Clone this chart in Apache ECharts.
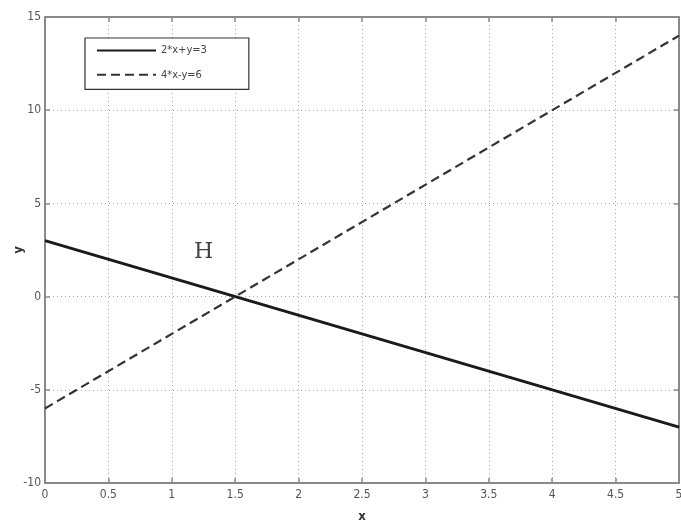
<!DOCTYPE html>
<html>
<head>
<meta charset="utf-8">
<script src="https://cdn.jsdelivr.net/npm/echarts@6/dist/echarts.min.js"></script>
<style>
  html, body { margin: 0; padding: 0; background: #fff; }
  #mainChart { width: 681px; height: 526px; }
</style>
</head>
<body>
<div id="mainChart"></div>
<script>
'use strict';
// line end points
var xValues = [0, 5];
var line1Values = [3, -7];   // 2*x+y=3
var line2Values = [-6, 14];  // 4*x-y=6
var seriesNames = ['2*x+y=3', '4*x-y=6'];
var hPoint = [1.25, 2.4];
var xTicks = [0, 0.5, 1, 1.5, 2, 2.5, 3, 3.5, 4, 4.5, 5];
var yTicks = [-10, -5, 0, 5, 10, 15];

var narrowFont = "'Liberation Sans Narrow', 'DejaVu Sans Condensed', 'Liberation Sans', sans-serif";

function pairs(xs, ys) {
    var out = [];
    for (var i = 0; i < xs.length; i++) out.push([xs[i], ys[i]]);
    return out;
}

var myChart = echarts.init(document.getElementById('mainChart'));

var axisLine = { show: true, onZero: false, lineStyle: { color: '#8a8a8a', width: 2 } };
var tickStyle = { show: true, inside: true, length: 5, lineStyle: { color: '#8a8a8a', width: 1.5 } };
var gridLine = { show: true, lineStyle: { color: '#a8a8a8', type: [1, 3], width: 1 } };

var option = {
    animation: false,
    backgroundColor: '#fff',
    grid: { left: 45, right: 2, top: 17, bottom: 43, outerBoundsMode: 'none', containLabel: false },
    legend: {
        data: seriesNames,
        orient: 'vertical',
        left: 85,
        top: 38,
        padding: [7, 42, 9, 11],
        itemWidth: 59,
        itemHeight: 14,
        itemGap: 13,
        borderColor: '#333',
        borderWidth: 1.2,
        borderRadius: 0,
        backgroundColor: '#fff',
        itemStyle: { opacity: 0 },
        textStyle: { fontFamily: narrowFont, fontSize: 11, color: '#444' }
    },
    xAxis: [{
        type: 'value',
        min: 0, max: 5, interval: 0.5,
        name: 'x',
        nameLocation: 'middle',
        nameGap: 27,
        nameTextStyle: { fontFamily: narrowFont, fontWeight: 'bold', fontSize: 13, color: '#333' },
        axisLine: axisLine,
        axisTick: tickStyle,
        axisLabel: { fontFamily: narrowFont, fontSize: 12, color: '#555', margin: 6,
            formatter: function (v) { return xTicks.indexOf(v) >= 0 ? String(v) : ''; } },
        splitLine: gridLine
    }, {
        type: 'value', position: 'top',
        min: 0, max: 5, interval: 0.5,
        axisLine: axisLine, axisTick: tickStyle,
        axisLabel: { show: false }, splitLine: { show: false }
    }],
    yAxis: [{
        type: 'value',
        min: -10, max: 15, interval: 5,
        name: 'y',
        nameLocation: 'middle',
        nameGap: 20,
        nameMoveOverlap: false,
        nameRotate: 90,
        nameTextStyle: { fontFamily: narrowFont, fontWeight: 'bold', fontSize: 13, color: '#333' },
        axisLine: axisLine,
        axisTick: tickStyle,
        axisLabel: { fontFamily: narrowFont, fontSize: 12, color: '#555', margin: 4,
            formatter: function (v) { return yTicks.indexOf(v) >= 0 ? String(v) : ''; } },
        splitLine: gridLine
    }, {
        type: 'value', position: 'right',
        min: -10, max: 15, interval: 5,
        axisLine: axisLine, axisTick: tickStyle,
        axisLabel: { show: false }, splitLine: { show: false }
    }],
    series: [{
        name: seriesNames[0],
        type: 'line',
        data: pairs(xValues, line1Values),
        symbol: 'none',
        lineStyle: { color: '#1a1a1a', width: 3, type: 'solid' },
        itemStyle: { color: '#1a1a1a' }
    }, {
        name: seriesNames[1],
        type: 'line',
        data: pairs(xValues, line2Values),
        symbol: 'none',
        lineStyle: { color: '#333', width: 2.2, type: [9, 5] },
        itemStyle: { color: '#333' }
    }, {
        name: 'H',
        type: 'scatter',
        data: [hPoint],
        symbolSize: 0,
        label: {
            show: true, position: 'inside', formatter: 'H',
            fontFamily: "'DejaVu Serif', 'Liberation Serif', serif",
            fontSize: 22, color: '#111'
        }
    }]
};

myChart.setOption(option);
</script>
</body>
</html>
